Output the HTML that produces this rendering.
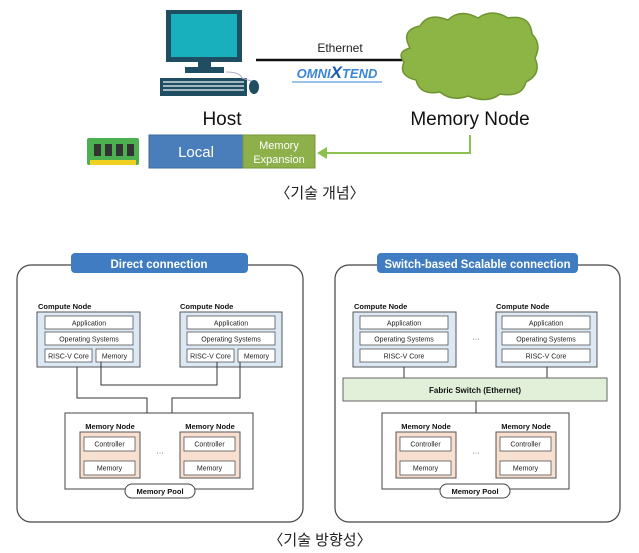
<!DOCTYPE html>
<html><head><meta charset="utf-8"><style>
html,body{margin:0;padding:0;background:#fff;}
svg{display:block;}
text{font-family:"Liberation Sans","Noto Sans CJK KR",sans-serif;}
</style></head><body>
<svg width="639" height="553" viewBox="0 0 639 553" xmlns="http://www.w3.org/2000/svg">
<rect x="166" y="10" width="76" height="52" fill="#1f4e63"/>
<rect x="171" y="14" width="66" height="43" fill="#17b0bc"/>
<rect x="198" y="62" width="13" height="6" fill="#1f4e63"/>
<rect x="185" y="67" width="39" height="6" fill="#1f4e63"/>
<rect x="160" y="78" width="87" height="18" fill="#1f4e63"/>
<g fill="#fff">
<rect x="163" y="81" width="81" height="2" opacity=".6"/><rect x="163" y="85" width="81" height="2" opacity=".6"/><rect x="163" y="89" width="81" height="2" opacity=".6"/>
</g>
<path d="M226 72 Q240 72 242 78 Q248 80 254 82" stroke="#aac" fill="none" stroke-width="1"/>
<ellipse cx="254" cy="87" rx="5" ry="7" fill="#1f4e63"/>
<line x1="256" y1="60" x2="403" y2="60" stroke="#111" stroke-width="2.5"/>
<text x="340" y="52" font-size="12" text-anchor="middle" fill="#222">Ethernet</text>
<text x="337" y="78" font-size="13" font-weight="bold" font-style="italic" text-anchor="middle" fill="#3a86d6">OMNI<tspan font-size="17" fill="#1a5cb0">X</tspan>TEND</text>
<line x1="292" y1="82" x2="382" y2="82" stroke="#3a86d6" stroke-width="1"/>
<g fill="#8db545" stroke="#6e9431" stroke-width="1.5">
<path d="M410 48 Q400 30 420 26 Q428 12 448 20 Q460 8 478 18 Q492 8 508 18 Q530 14 532 34 Q542 44 535 58 Q542 74 526 82 Q522 98 500 94 Q488 104 468 96 Q452 102 440 92 Q420 96 416 80 Q398 76 404 62 Q396 52 410 48 Z"/>
</g>
<text x="222" y="125" font-size="19" text-anchor="middle" fill="#111">Host</text>
<text x="470" y="125" font-size="19" text-anchor="middle" fill="#111">Memory Node</text>
<rect x="87" y="138" width="52" height="27" rx="2" fill="#4caf50"/>
<g fill="#333"><rect x="94" y="144" width="7" height="12"/><rect x="105" y="144" width="7" height="12"/><rect x="116" y="144" width="7" height="12"/><rect x="127" y="144" width="7" height="12"/></g>
<rect x="90" y="160" width="46" height="5" fill="#f0d020"/>
<rect x="149" y="135" width="94" height="33" fill="#4a7ebb" stroke="#3a6aa0"/>
<text x="196" y="157" font-size="15" text-anchor="middle" fill="#fff">Local</text>
<rect x="243" y="135" width="72" height="33" fill="#8db04a" stroke="#769638"/>
<text x="279" y="149" font-size="11" text-anchor="middle" fill="#fff">Memory</text>
<text x="279" y="163" font-size="11" text-anchor="middle" fill="#fff">Expansion</text>
<path d="M470 135 V153 H324" stroke="#8dbf50" stroke-width="2" fill="none"/>
<path d="M317 153 L327 147 L327 159 Z" fill="#8dbf50"/>
<text x="320" y="198" font-size="15" text-anchor="middle" fill="#222">〈기술 개념〉</text>

<rect x="17" y="265" width="286" height="257" rx="14" fill="none" stroke="#444" stroke-width="1.2"/>
<rect x="71" y="253" width="177" height="20" rx="4" fill="#3f7cc2"/>
<text x="159" y="268" font-size="12" font-weight="bold" text-anchor="middle" fill="#fff" textLength="97" lengthAdjust="spacingAndGlyphs">Direct connection</text>
<g font-size="7.5">
<text x="38" y="309" font-weight="bold" fill="#111">Compute Node</text>
<text x="180" y="309" font-weight="bold" fill="#111">Compute Node</text>
</g>
<g stroke="#555" fill="#dce9f5" stroke-width="1">
<rect x="37" y="312" width="103" height="55"/><rect x="180" y="312" width="102" height="55"/>
</g>
<g stroke="#555" fill="#fff" stroke-width=".8">
<rect x="45" y="316" width="88" height="13"/><rect x="45" y="332" width="88" height="13"/>
<rect x="45" y="349" width="47" height="13"/><rect x="96" y="349" width="37" height="13"/>
<rect x="187" y="316" width="88" height="13"/><rect x="187" y="332" width="88" height="13"/>
<rect x="187" y="349" width="47" height="13"/><rect x="238" y="349" width="37" height="13"/>
</g>
<g font-size="7" text-anchor="middle" fill="#222">
<text x="89" y="325.5">Application</text><text x="89" y="341.5">Operating Systems</text>
<text x="68.5" y="358.5">RISC-V Core</text><text x="114.5" y="358.5">Memory</text>
<text x="231" y="325.5">Application</text><text x="231" y="341.5">Operating Systems</text>
<text x="210.5" y="358.5">RISC-V Core</text><text x="256.5" y="358.5">Memory</text>
</g>
<g stroke="#333" fill="none" stroke-width="1">
<path d="M77 367 V398 H147 V413"/>
<path d="M101 362 V385 H217 V362"/>
<path d="M240 362 V398 H172 V413"/>
</g>
<rect x="65" y="413" width="188" height="76" fill="#fff" stroke="#444"/>
<g font-size="7.5" font-weight="bold" fill="#111" text-anchor="middle">
<text x="110" y="429">Memory Node</text><text x="210" y="429">Memory Node</text>
</g>
<g stroke="#555" fill="#f7e0cf"><rect x="80" y="432" width="60" height="46"/><rect x="180" y="432" width="60" height="46"/></g>
<g stroke="#555" fill="#fff" stroke-width=".8">
<rect x="84" y="437" width="51" height="14"/><rect x="84" y="461" width="51" height="14"/>
<rect x="184" y="437" width="51" height="14"/><rect x="184" y="461" width="51" height="14"/>
</g>
<g font-size="7" text-anchor="middle" fill="#222">
<text x="109.5" y="446.5">Controller</text><text x="109.5" y="470.5">Memory</text>
<text x="209.5" y="446.5">Controller</text><text x="209.5" y="470.5">Memory</text>
<text x="160" y="455">···</text>
</g>
<rect x="125" y="484" width="70" height="14" rx="7" fill="#fff" stroke="#444"/>
<text x="160" y="494" font-size="7.5" font-weight="bold" text-anchor="middle" fill="#111">Memory Pool</text>

<rect x="335" y="265" width="285" height="257" rx="14" fill="none" stroke="#444" stroke-width="1.2"/>
<rect x="377" y="253" width="201" height="20" rx="4" fill="#3f7cc2"/>
<text x="477.5" y="268" font-size="12" font-weight="bold" text-anchor="middle" fill="#fff" textLength="186" lengthAdjust="spacingAndGlyphs">Switch-based Scalable connection</text>
<g font-size="7.5" font-weight="bold" fill="#111">
<text x="354" y="309">Compute Node</text><text x="496" y="309">Compute Node</text>
</g>
<g stroke="#555" fill="#dce9f5"><rect x="353" y="312" width="103" height="55"/><rect x="496" y="312" width="101" height="55"/></g>
<g stroke="#555" fill="#fff" stroke-width=".8">
<rect x="360" y="316" width="88" height="13"/><rect x="360" y="332" width="88" height="13"/><rect x="360" y="349" width="88" height="13"/>
<rect x="502" y="316" width="88" height="13"/><rect x="502" y="332" width="88" height="13"/><rect x="502" y="349" width="88" height="13"/>
</g>
<g font-size="7" text-anchor="middle" fill="#222">
<text x="404" y="325.5">Application</text><text x="404" y="341.5">Operating Systems</text><text x="404" y="358.5">RISC-V Core</text>
<text x="546" y="325.5">Application</text><text x="546" y="341.5">Operating Systems</text><text x="546" y="358.5">RISC-V Core</text>
<text x="476" y="341">···</text>
</g>
<g stroke="#333" stroke-width="1"><line x1="404" y1="367" x2="404" y2="378"/><line x1="547" y1="367" x2="547" y2="378"/><line x1="476" y1="401" x2="476" y2="413"/></g>
<rect x="343" y="378" width="264" height="23" fill="#e2efd9" stroke="#666"/>
<text x="475" y="393" font-size="8" font-weight="bold" text-anchor="middle" fill="#111">Fabric Switch (Ethernet)</text>
<rect x="382" y="413" width="187" height="76" fill="#fff" stroke="#444"/>
<g font-size="7.5" font-weight="bold" fill="#111" text-anchor="middle">
<text x="426" y="429">Memory Node</text><text x="526" y="429">Memory Node</text>
</g>
<g stroke="#555" fill="#f7e0cf"><rect x="396" y="432" width="60" height="46"/><rect x="496" y="432" width="60" height="46"/></g>
<g stroke="#555" fill="#fff" stroke-width=".8">
<rect x="400" y="437" width="51" height="14"/><rect x="400" y="461" width="51" height="14"/>
<rect x="500" y="437" width="51" height="14"/><rect x="500" y="461" width="51" height="14"/>
</g>
<g font-size="7" text-anchor="middle" fill="#222">
<text x="425.5" y="446.5">Controller</text><text x="425.5" y="470.5">Memory</text>
<text x="525.5" y="446.5">Controller</text><text x="525.5" y="470.5">Memory</text>
<text x="476" y="455">···</text>
</g>
<rect x="440" y="484" width="70" height="14" rx="7" fill="#fff" stroke="#444"/>
<text x="475" y="494" font-size="7.5" font-weight="bold" text-anchor="middle" fill="#111">Memory Pool</text>

<text x="320" y="545" font-size="15" text-anchor="middle" fill="#222">〈기술 방향성〉</text>
</svg>
</body></html>
